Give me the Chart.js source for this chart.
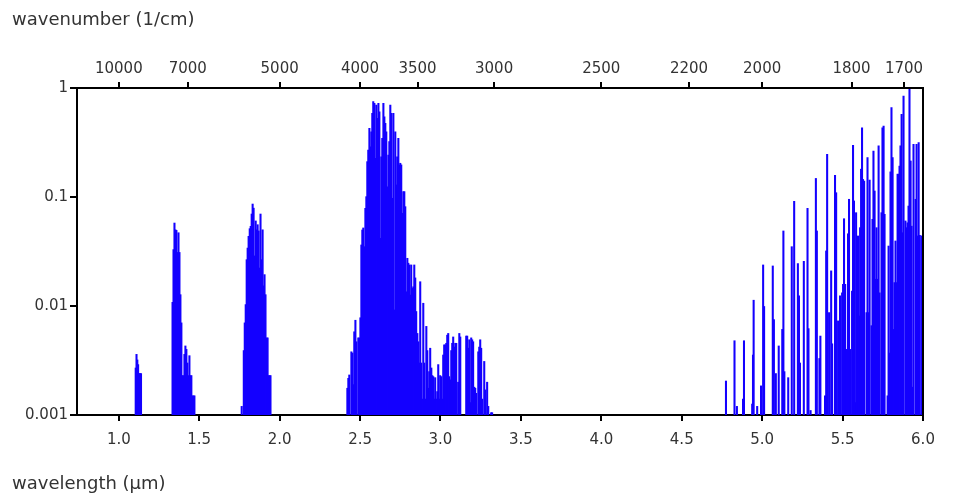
<!DOCTYPE html>
<html>
<head>
<meta charset="utf-8">
<script src="https://cdn.jsdelivr.net/npm/chart.js@4.4.1/dist/chart.umd.min.js"></script>
<style>
html,body{margin:0;padding:0;background:#fff;}
#wrap{width:960px;height:504px;}
</style>
</head>
<body>
<div id="wrap"><canvas id="c" width="960" height="504"></canvas></div>
<script>
// ---- data (wavelength in µm, absorption line strength) ----
const wavelength = [
  // ~1.1 µm band
  1.105,1.110,1.115,1.120,1.126,1.132,1.138,
  // ~1.4 µm band
  1.334,1.340,1.346,1.352,1.358,1.364,1.371,1.377,1.383,1.389,1.395,1.402,1.408,1.414,1.420,1.426,1.433,1.439,1.445,1.451,1.457,1.464,1.470,
  // ~1.9 µm band
  1.764,1.777,1.783,1.789,1.795,1.801,1.807,1.814,1.820,1.826,1.832,1.838,1.844,1.851,1.857,1.863,1.869,1.875,1.881,1.888,1.894,1.900,1.906,1.912,1.919,1.925,1.931,1.937,1.943,
  // ~2.7 µm band
  2.421,2.427,2.433,2.446,2.452,2.458,2.464,2.471,2.477,2.489,2.496,2.502,2.508,2.514,2.520,2.527,2.533,2.539,2.545,2.551,
  2.558,2.564,2.570,2.576,2.582,2.589,2.595,2.601,2.607,2.614,2.620,2.626,2.632,2.638,2.645,2.651,2.657,2.663,2.669,2.676,
  2.682,2.688,2.694,2.700,2.707,2.713,2.719,2.725,2.731,2.738,2.744,2.750,2.756,2.763,2.769,2.775,2.781,2.787,2.794,2.800,
  2.806,2.812,2.818,2.825,2.831,2.837,2.843,2.849,2.856,2.862,2.868,2.874,2.880,2.887,2.893,2.899,2.905,2.912,2.918,2.924,
  2.930,2.936,2.943,2.949,2.955,2.961,2.967,2.974,2.980,2.986,2.992,2.998,3.005,3.011,3.017,3.023,3.030,3.036,3.042,3.048,
  3.054,3.061,3.067,3.073,3.079,3.085,3.092,3.098,3.110,3.117,3.123,3.160,3.166,3.172,3.179,3.185,3.191,3.197,3.203,3.210,
  3.216,3.222,3.235,3.241,3.247,3.253,3.259,3.272,3.278,3.290,3.297,3.315,3.321,
  // 4.8 - 6.0 µm band
  4.775,4.828,4.843,4.881,4.887,4.938,4.943,4.947,4.969,4.993,5.006,5.012,5.066,5.073,5.085,5.103,5.125,5.132,5.138,5.162,
  5.184,5.199,5.222,5.229,5.235,5.259,5.282,5.288,5.301,5.334,5.340,5.356,5.362,5.391,5.398,5.404,5.416,5.429,5.435,5.453,
  5.460,5.472,5.484,5.497,5.503,5.509,5.516,5.522,5.534,5.540,5.547,5.559,5.565,5.571,5.578,5.584,5.590,5.596,5.602,5.609,
  5.615,5.621,5.627,5.634,5.649,5.655,5.661,5.668,5.680,5.686,5.692,5.699,5.705,5.711,5.717,5.724,5.730,5.742,5.748,5.755,
  5.761,5.780,5.786,5.792,5.798,5.804,5.811,5.817,5.823,5.829,5.836,5.842,5.848,5.854,5.860,5.867,5.873,5.879,5.891,5.898,
  5.904,5.910,5.916,5.923,5.929,5.935,5.941,5.954,5.960,5.966,5.973,5.980,5.992
];
const absorption = [
  0.0027,0.0036,0.0032,0.0029,0.0024,0.0024,0.0024,
  0.0108,0.0329,0.0577,0.050,0.0494,0.031,0.047,0.031,0.0127,0.0070,0.0023,0.0023,0.0036,0.0043,0.0040,0.0030,0.0023,0.0035,0.0023,0.0023,0.0015,0.0015,0.0015,
  0.0012,0.0039,0.0070,0.0103,0.0266,0.034,0.0436,0.0512,0.0538,0.0698,0.0862,0.079,0.0288,0.0603,0.050,0.0557,0.0488,0.0223,0.0698,0.0266,0.050,0.0153,0.0194,0.0127,0.0051,0.0051,0.0023,0.0023,0.0023,
  0.00176,0.00217,0.00233,0.0038,0.0037,0.0019,0.0058,0.0074,0.0047,0.0051,0.0051,0.0078,0.0363,0.0498,0.052,0.035,0.0787,0.1007,0.211,0.27,
  0.427,0.289,0.397,0.586,0.749,0.724,0.226,0.698,0.527,0.724,0.606,0.0418,0.234,0.346,0.724,0.545,0.474,0.397,0.124,0.243,
  0.322,0.698,0.586,0.0973,0.586,0.0092,0.397,0.129,0.234,0.346,0.197,0.204,0.197,0.0709,0.112,0.112,0.0815,0.0135,0.0274,0.0247,
  0.0238,0.0126,0.0238,0.0145,0.015,0.0238,0.0181,0.0089,0.0056,0.0047,0.003,0.0167,0.003,0.0014,0.0106,0.003,0.0014,0.0065,0.0039,0.00176,
  0.0025,0.0041,0.0027,0.0023,0.00225,0.0014,0.0022,0.0014,0.00164,0.0029,0.0014,0.0023,0.00225,0.0014,0.00355,0.0044,0.0044,0.00455,0.0054,0.0056,
  0.00225,0.0021,0.0039,0.00455,0.0052,0.0042,0.00455,0.00455,0.002,0.0056,0.0052,0.0053,0.0053,0.0041,0.0049,0.0013,0.0051,0.0049,0.0047,0.0018,
  0.00176,0.00158,0.0038,0.0042,0.0049,0.0041,0.0014,0.0031,0.0017,0.002,0.0012,0.00105,0.00105,
  0.00205,0.0048,0.0012,0.0014,0.0048,0.00126,0.00355,0.0113,0.0012,0.00185,0.0238,0.0099,0.0233,0.0075,0.0024,0.0043,0.0061,0.0488,0.0025,0.0022,
  0.035,0.0913,0.0245,0.0124,0.003,0.0257,0.0787,0.0062,0.0011,0.148,0.0488,0.0033,0.0053,0.0015,0.032,0.246,0.0087,0.021,0.0045,0.158,
  0.1095,0.0073,0.0124,0.0132,0.0158,0.0632,0.0158,0.0040,0.046,0.0953,0.0040,0.0137,0.298,0.092,0.0013,0.0718,0.0036,0.0439,0.0081,0.0523,
  0.18,0.432,0.145,0.14,0.0087,0.23,0.0087,0.143,0.0066,0.0624,0.264,0.1135,0.0176,0.0523,0.0176,0.294,0.0132,0.0718,0.432,0.448,
  0.0694,0.0015,0.0355,0.0037,0.17,0.66,0.23,0.0061,0.0164,0.0395,0.0164,0.162,0.162,0.192,0.294,0.574,0.047,0.845,0.0603,0.0523,
  0.058,0.0826,0.97,0.214,0.054,0.0018,0.304,0.0953,0.304,0.0439,0.315,0.0445,0.044
];
const xTickValues = [1.0,1.5,2.0,2.5,3.0,3.5,4.0,4.5,5.0,5.5,6.0];
const wavenumberTicks = [10000,7000,5000,4000,3500,3000,2500,2200,2000,1800,1700];
const yTickValues = [1,0.1,0.01,0.001];
const yTickLabels = ['1','0.1','0.01','0.001'];
const topTitle = 'wavenumber (1/cm)';
const bottomTitle = 'wavelength (µm)';
const xMin = 0.74, xMax = 6.0, yMin = 0.001, yMax = 1;

const points = wavelength.map((w, i) => ({x: w, y: [yMin, absorption[i]]}));

const TXT = '#333';
const tickFont = {family: 'DejaVu Sans', size: 15};

const framePlugin = {
  id: 'frame',
  afterDraw(chart) {
    const {ctx, chartArea: a} = chart;
    ctx.save();
    ctx.strokeStyle = '#000';
    ctx.lineWidth = 2;
    ctx.beginPath();
    ctx.moveTo(a.right, a.top - 1);
    ctx.lineTo(a.right, a.bottom + 1);
    ctx.stroke();
    ctx.fillStyle = TXT;
    ctx.font = '18px "DejaVu Sans"';
    ctx.textAlign = 'left';
    ctx.textBaseline = 'middle';
    ctx.fillText(topTitle, 12, 20);
    ctx.fillText(bottomTitle, 12, 484);
    ctx.restore();
  }
};

new Chart(document.getElementById('c'), {
  type: 'bar',
  data: {
    datasets: [{
      data: points,
      backgroundColor: 'rgb(20,0,255)',
      borderWidth: 0,
      barThickness: 1.4
    }]
  },
  options: {
    responsive: false,
    devicePixelRatio: 1,
    animation: false,
    layout: {padding: {left: 0, right: 37, top: 0, bottom: 0}},
    plugins: {legend: {display: false}, tooltip: {enabled: false}, title: {display: false}},
    scales: {
      x: {
        type: 'linear', position: 'bottom', min: xMin, max: xMax, offset: false,
        afterBuildTicks: s => { s.ticks = xTickValues.map(v => ({value: v})); },
        afterFit: s => { s.height = 89; },
        grid: {display: true, drawOnChartArea: false, drawTicks: true, tickLength: 6, color: '#000', lineWidth: 2, offset: false},
        border: {display: true, color: '#000', width: 2},
        ticks: {autoSkip: false, maxRotation: 0, padding: 10, color: TXT, font: tickFont,
                callback: v => Number(v).toFixed(1)}
      },
      x2: {
        type: 'linear', position: 'top', min: xMin, max: xMax, offset: false,
        afterBuildTicks: s => { s.ticks = wavenumberTicks.map(w => ({value: 1e4 / w})); },
        afterFit: s => { s.height = 88; },
        grid: {display: true, drawOnChartArea: false, drawTicks: true, tickLength: 6, color: '#000', lineWidth: 2, offset: false},
        border: {display: true, color: '#000', width: 2},
        ticks: {autoSkip: false, maxRotation: 0, padding: 4, color: TXT, font: tickFont,
                callback: (v, i) => String(wavenumberTicks[i])}
      },
      y: {
        type: 'logarithmic', position: 'left', min: yMin, max: yMax,
        afterBuildTicks: s => { s.ticks = yTickValues.map(v => ({value: v})); },
        afterFit: s => { s.width = 77; },
        grid: {display: true, drawOnChartArea: false, drawTicks: true, tickLength: 7, color: '#000', lineWidth: 2},
        border: {display: true, color: '#000', width: 2},
        ticks: {autoSkip: false, padding: 2, color: TXT, font: tickFont,
                callback: (v, i) => yTickLabels[i]}
      }
    }
  },
  plugins: [framePlugin]
});
</script>
</body>
</html>
